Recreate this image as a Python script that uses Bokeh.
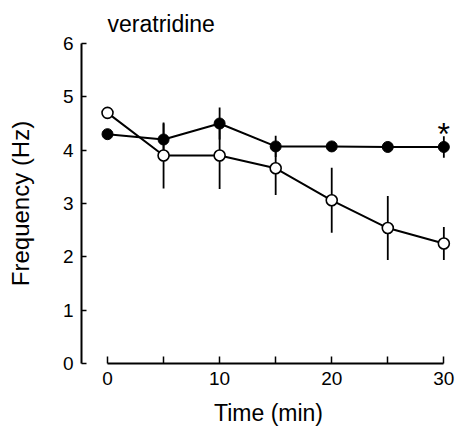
from bokeh.plotting import figure
from bokeh.models import FixedTicker, Range1d
from bokeh.core.properties import value
from bokeh.embed import file_html
from bokeh.resources import INLINE

# data
time_min = [0, 5, 10, 15, 20, 25, 30]
filled_mean = [4.3, 4.2, 4.5, 4.07, 4.07, 4.06, 4.06]
filled_err = [0.0, 0.3, 0.3, 0.2, 0.0, 0.0, 0.2]
open_mean = [4.7, 3.9, 3.9, 3.66, 3.06, 2.54, 2.25]
open_err = [0.0, 0.62, 0.63, 0.5, 0.61, 0.6, 0.31]
x_major_ticks = [0, 10, 20, 30]
x_minor_ticks = [5, 15, 25]
y_ticks = [0, 1, 2, 3, 4, 5, 6]
star_time = 30
star_y = 4.31

FONT = "Liberation Sans"

p = figure(width=455, height=429, output_backend="svg", toolbar_location=None,
           x_range=Range1d(-2.32, 31.04), y_range=Range1d(0, 6),
           min_border_left=81, min_border_right=0, min_border_top=43, min_border_bottom=66,
           title="veratridine")
p.outline_line_color = None
p.grid.visible = False
p.background_fill_color = "white"
p.border_fill_color = "white"

p.title.text_font = FONT
p.title.text_font_size = "23px"
p.title.text_font_style = "normal"
p.title.text_color = "black"
p.title.align = "left"
p.title.offset = 26
p.title.standoff = 13

xa = p.xaxis[0]
xa.bounds = (0, 30)
xa.ticker = FixedTicker(ticks=x_major_ticks, minor_ticks=x_minor_ticks)
xa.major_tick_in = 7
xa.major_tick_out = 0
xa.minor_tick_in = 7
xa.minor_tick_out = 0
xa.axis_line_width = 2
xa.major_tick_line_width = 1.5
xa.minor_tick_line_width = 1.5
xa.major_label_text_font = FONT
xa.major_label_text_font_size = "19px"
xa.major_label_text_color = "black"
xa.major_label_standoff = 8
xa.axis_label = "Time (min)"
xa.axis_label_text_font = FONT
xa.axis_label_text_font_size = "23px"
xa.axis_label_text_font_style = "normal"
xa.axis_label_text_color = "black"
xa.axis_label_standoff = 12

ya = p.yaxis[0]
ya.bounds = (0, 6)
ya.ticker = FixedTicker(ticks=y_ticks, minor_ticks=[])
ya.major_tick_in = 5
ya.major_tick_out = 0
ya.minor_tick_in = 0
ya.minor_tick_out = 0
ya.axis_line_width = 2
ya.major_tick_line_width = 1.5
ya.major_label_text_font = FONT
ya.major_label_text_font_size = "19px"
ya.major_label_text_color = "black"
ya.major_label_standoff = 8
ya.axis_label = "Frequency (Hz)"
ya.axis_label_text_font = FONT
ya.axis_label_text_font_size = "24px"
ya.axis_label_text_font_style = "normal"
ya.axis_label_text_color = "black"
ya.axis_label_standoff = 26

# error bars
f_lo = [m - e for m, e in zip(filled_mean, filled_err)]
f_hi = [m + e for m, e in zip(filled_mean, filled_err)]
o_lo = [m - e for m, e in zip(open_mean, open_err)]
o_hi = [m + e for m, e in zip(open_mean, open_err)]
p.segment(x0=time_min, y0=o_lo, x1=time_min, y1=o_hi, line_color="black", line_width=1.8)
p.segment(x0=time_min, y0=f_lo, x1=time_min, y1=f_hi, line_color="black", line_width=1.8)

# lines
p.line(time_min, open_mean, line_color="black", line_width=2)
p.line(time_min, filled_mean, line_color="black", line_width=2)

# markers
p.scatter(time_min, filled_mean, size=11, fill_color="black", line_color="black", line_width=1)
p.scatter(time_min, open_mean, size=11, fill_color="white", line_color="black", line_width=1.6)

p.text(x=[star_time], y=[star_y], text=["*"], text_font=value(FONT), text_font_size="32px",
       text_align="center", text_baseline="alphabetic", text_color="black")

open("out.html", "w").write(file_html(p, INLINE))
